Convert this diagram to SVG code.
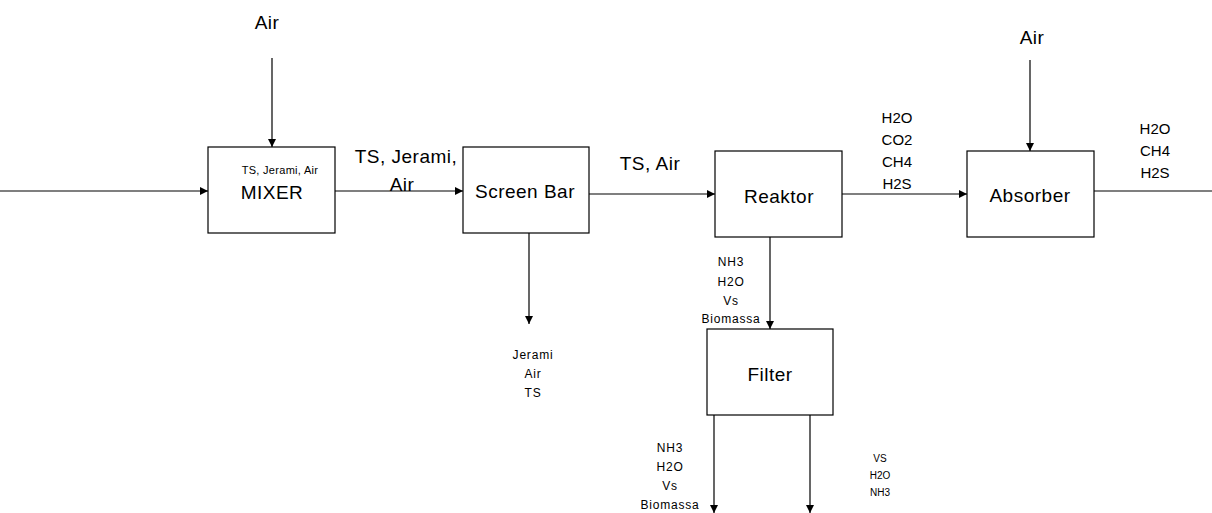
<svg xmlns="http://www.w3.org/2000/svg" width="1212" height="513" viewBox="0 0 1212 513">
<defs>
<marker id="ah" viewBox="0 0 10 10" refX="10" refY="5" markerWidth="8" markerHeight="8" markerUnits="userSpaceOnUse" orient="auto">
<path d="M0,0 L10,5 L0,10 z" fill="#000"/>
</marker>
</defs>
<style>
.box{fill:#fff;stroke:#000;stroke-width:1.2}
.ln{fill:none;stroke:#000;stroke-width:1.2;marker-end:url(#ah)}
.ln2{fill:none;stroke:#000;stroke-width:1.2}
text{font-family:"Liberation Sans","DejaVu Sans",sans-serif;fill:#000;text-anchor:middle}
.big{font-size:19px;letter-spacing:0.5px}
.mid{font-size:15px}
.sm{font-size:12px;letter-spacing:0.8px}
.xs{font-size:10px}
.xs2{font-size:11px;letter-spacing:0.3px}
</style>
<rect width="1212" height="513" fill="#fff"/>
<g id="connectors">
<line class="ln" x1="0" y1="191" x2="208" y2="191"/>
<line class="ln" x1="272" y1="58" x2="272" y2="147"/>
<line class="ln" x1="335" y1="191" x2="463" y2="191"/>
<line class="ln" x1="589" y1="194" x2="715" y2="194"/>
<line class="ln" x1="529" y1="233" x2="529" y2="324"/>
<line class="ln" x1="770" y1="237" x2="770" y2="329"/>
<line class="ln" x1="842" y1="194" x2="967" y2="194"/>
<line class="ln" x1="1030" y1="60" x2="1030" y2="151"/>
<line class="ln2" x1="1094" y1="191" x2="1212" y2="191"/>
<line class="ln" x1="714" y1="415" x2="714" y2="513"/>
<line class="ln" x1="810" y1="415" x2="810" y2="513"/>
<text class="big" x="267" y="29">Air</text>
<text class="big" x="406" y="163">TS, Jerami,</text>
<text class="big" x="402" y="191">Air</text>
<text class="big" x="650" y="170">TS, Air</text>
<text class="sm" x="533" y="359">Jerami</text>
<text class="sm" x="533" y="378">Air</text>
<text class="sm" x="533" y="397">TS</text>
<text class="sm" x="731" y="266">NH3</text>
<text class="sm" x="731" y="286">H2O</text>
<text class="sm" x="731" y="305">Vs</text>
<text class="sm" x="731" y="323">Biomassa</text>
<text class="mid" x="897" y="123">H2O</text>
<text class="mid" x="897" y="145">CO2</text>
<text class="mid" x="897" y="167">CH4</text>
<text class="mid" x="897" y="189">H2S</text>
<text class="big" x="1032" y="44">Air</text>
<text class="mid" x="1155" y="134">H2O</text>
<text class="mid" x="1155" y="156">CH4</text>
<text class="mid" x="1155" y="178">H2S</text>
<text class="sm" x="670" y="452">NH3</text>
<text class="sm" x="670" y="471">H2O</text>
<text class="sm" x="670" y="490">Vs</text>
<text class="sm" x="670" y="509">Biomassa</text>
<text class="xs" x="880" y="462">VS</text>
<text class="xs" x="880" y="479">H2O</text>
<text class="xs" x="880" y="496">NH3</text>
</g>
<g id="mixer">
<rect class="box" x="208" y="147" width="127" height="86"/>
<text class="xs2" x="280" y="174">TS, Jerami, Air</text>
<text class="big" x="272" y="199">MIXER</text>
</g>
<g id="screenbar">
<rect class="box" x="463" y="147" width="126" height="86"/>
<text class="big" x="525" y="198">Screen Bar</text>
</g>
<g id="reaktor">
<rect class="box" x="715" y="151" width="127" height="86"/>
<text class="big" x="779" y="203">Reaktor</text>
</g>
<g id="absorber">
<rect class="box" x="967" y="151" width="127" height="86"/>
<text class="big" x="1030" y="202">Absorber</text>
</g>
<g id="filter">
<rect class="box" x="707" y="329" width="126" height="86"/>
<text class="big" x="770" y="381">Filter</text>
</g>
</svg>
